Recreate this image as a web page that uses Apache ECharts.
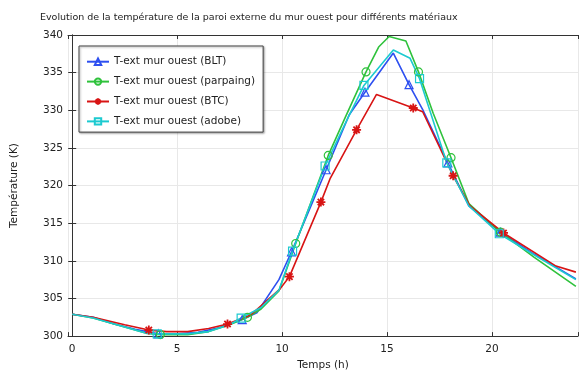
<!DOCTYPE html>
<html lang="fr">
<head>
<meta charset="UTF-8">
<title>Température paroi externe - mur ouest</title>
<script src="https://cdn.jsdelivr.net/npm/echarts@6/dist/echarts.min.js"></script>
<style>
  html, body { margin: 0; padding: 0; background: #fff; }
  #main { width: 581px; height: 376px; }
</style>
</head>
<body>
<div id="main"></div>
<script>
// temps (h) et température (K)
const tBLT = [0, 1, 2, 3, 4.1, 5, 6, 7, 8.1, 8.8, 9.85, 10.45, 11, 12.1, 13.2, 13.95, 15.3, 16.05, 16.7, 17.9, 18.9, 20.4, 22, 24];
const yBLT = [302.9, 302.5, 301.6, 300.9, 300.3, 300.3, 300.5, 301.1, 302.2, 303.1, 307.5, 311.2, 314.8, 322.1, 329.4, 332.4, 337.6, 333.4, 330.1, 323.0, 317.3, 313.8, 310.9, 307.6];
const mkBLT = [4.1, 8.1, 10.45, 12.1, 13.95, 16.05, 17.9, 20.4];

const tParp = [0, 1, 2.5, 3.5, 4.2, 5.5, 6.5, 7.5, 8.35, 9.0, 9.85, 10.65, 12.2, 13.0, 14.0, 14.6, 15.1, 15.9, 16.5, 17.2, 18.05, 18.9, 20.4, 22, 24];
const yParp = [302.9, 302.4, 301.2, 300.4, 300.2, 300.2, 300.6, 301.5, 302.5, 303.6, 306.0, 312.3, 324.0, 329.0, 335.1, 338.4, 339.8, 339.2, 335.1, 329.6, 323.7, 317.6, 313.8, 310.5, 306.6];
const mkParp = [4.2, 8.35, 10.65, 12.2, 14.0, 16.5, 18.05, 20.4];

const tBTC = [0, 1, 2.5, 3.65, 4.5, 5.5, 6.5, 7.4, 8.5, 9.88, 10.35, 11.85, 12.3, 13.55, 14.5, 16.25, 16.7, 18.15, 18.95, 20.55, 23.05, 24];
const yBTC = [302.9, 302.5, 301.5, 300.8, 300.6, 300.6, 301.0, 301.6, 302.8, 306.2, 307.9, 317.8, 321.0, 327.4, 332.1, 330.3, 329.8, 321.3, 317.3, 313.7, 309.3, 308.5];
const mkBTC = [3.65, 7.4, 10.35, 11.85, 13.55, 16.25, 18.15, 20.55];

const tAdobe = [0, 1, 2.5, 3.5, 4.05, 5.5, 6.5, 7.5, 8.05, 9.0, 9.85, 10.5, 12.05, 13.0, 13.9, 15.3, 16.1, 16.55, 17.85, 18.9, 20.35, 22, 24];
const yAdobe = [302.9, 302.4, 301.2, 300.4, 300.3, 300.3, 300.6, 301.5, 302.4, 303.8, 306.1, 311.3, 322.6, 328.2, 333.3, 338.0, 336.9, 334.2, 323.0, 317.3, 313.6, 310.8, 307.5];
const mkAdobe = [4.05, 8.05, 10.5, 12.05, 13.9, 16.55, 17.85, 20.35];

const names = ['T-ext mur ouest (BLT)', 'T-ext mur ouest (parpaing)', 'T-ext mur ouest (BTC)', 'T-ext mur ouest (adobe)'];

var chart = echarts.init(document.getElementById('main'));
var font = 'DejaVu Sans';
var asterisk = 'path://M0,-10L0,10M-10,0L10,0M-7,-7L7,7M-7,7L7,-7';

function makeSeries(name, ts, ys, marks, color, symbol, size) {
  return {
    name: name,
    type: 'line',
    color: color,
    showAllSymbol: true,
    symbol: symbol,
    symbolSize: size,
    lineStyle: { color: color, width: 1.6 },
    itemStyle: { color: 'none', borderColor: color, borderWidth: symbol === asterisk ? 1.8 : 1.2 },
    emphasis: { disabled: true },
    data: ts.map(function (t, i) {
      return { value: [t, ys[i]], symbol: marks.indexOf(t) >= 0 ? symbol : 'none' };
    })
  };
}

var axisCol = '#333';
var option = {
  animation: false,
  backgroundColor: '#fff',
  title: {
    text: 'Evolution de la température de la paroi externe du mur ouest pour différents matériaux',
    left: 35, top: 8,
    textStyle: { fontFamily: font, fontSize: 9.5, fontWeight: 'normal', color: '#222' }
  },
  legend: {
    orient: 'vertical',
    left: 79, top: 46,
    padding: [10, 8, 5, 7],
    itemGap: 8.5,
    itemWidth: 22, itemHeight: 8,
    backgroundColor: '#fff',
    borderColor: '#444', borderWidth: 1,
    shadowColor: 'rgba(0,0,0,0.35)', shadowBlur: 2, shadowOffsetX: 1, shadowOffsetY: 1,
    textStyle: { fontFamily: font, fontSize: 10.5, color: '#222' },
    data: names
  },
  grid: { left: 68, right: 0, top: 35, bottom: 38 },
  xAxis: [{
    type: 'value', min: -0.2, max: 24.1, splitNumber: 5,
    name: 'Temps (h)', nameLocation: 'middle', nameGap: 22,
    nameTextStyle: { fontFamily: font, fontSize: 10.5, color: '#222' },
    axisLine: { lineStyle: { color: axisCol } },
    axisTick: { inside: true, length: 4, lineStyle: { color: axisCol } },
    axisLabel: { fontFamily: font, fontSize: 10.5, color: '#222', margin: 8,
      formatter: function (v) { return Math.abs(v % 5) < 1e-6 ? String(v) : ''; } },
    splitLine: { show: true, lineStyle: { color: '#e8e8e8' } }
  }, {
    type: 'value', min: -0.2, max: 24.1, splitNumber: 5, position: 'top',
    axisLine: { lineStyle: { color: axisCol } },
    axisTick: { inside: true, length: 4, lineStyle: { color: axisCol } },
    axisLabel: { show: false }, splitLine: { show: false }
  }],
  yAxis: [{
    type: 'value', min: 300, max: 340, interval: 5,
    name: 'Température (K)', nameLocation: 'middle', nameGap: 48,
    nameTextStyle: { fontFamily: font, fontSize: 10.5, color: '#222' },
    axisLine: { show: true, lineStyle: { color: axisCol } },
    axisTick: { show: true, inside: true, length: 4, lineStyle: { color: axisCol } },
    axisLabel: { fontFamily: font, fontSize: 10.5, color: '#222', margin: 5 },
    splitLine: { show: true, lineStyle: { color: '#e8e8e8' } }
  }, {
    type: 'value', min: 300, max: 340, interval: 5, position: 'right',
    axisLine: { show: true, lineStyle: { color: axisCol } },
    axisTick: { show: true, inside: true, length: 4, lineStyle: { color: axisCol } },
    axisLabel: { show: false }, splitLine: { show: false }
  }],
  series: [
    makeSeries(names[0], tBLT, yBLT, mkBLT, '#2d4ff0', 'triangle', 8),
    makeSeries(names[1], tParp, yParp, mkParp, '#2fc23c', 'circle', 8),
    makeSeries(names[2], tBTC, yBTC, mkBTC, '#d81414', asterisk, 9),
    makeSeries(names[3], tAdobe, yAdobe, mkAdobe, '#1ccad0', 'rect', 8)
  ]
};

chart.setOption(option);
</script>
</body>
</html>
